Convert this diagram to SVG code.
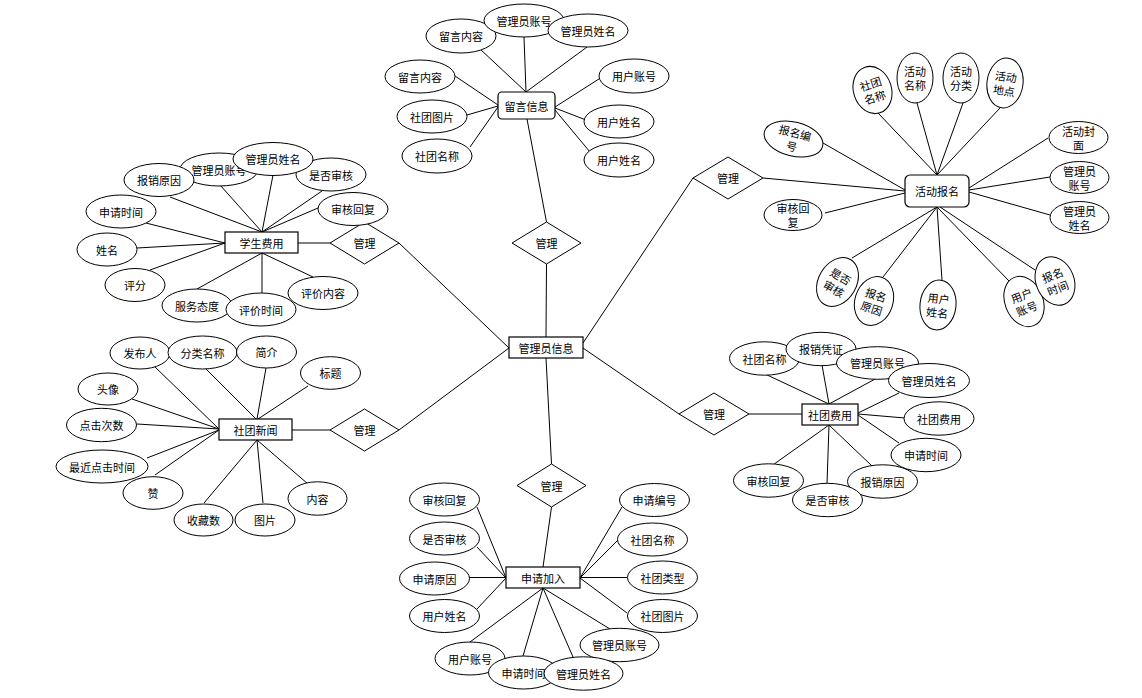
<svg xmlns="http://www.w3.org/2000/svg" width="1142" height="698" viewBox="0 0 1142 698">
<style>
.e{fill:#fff;stroke:#000;stroke-width:1}
.r{fill:#fff;stroke:#000;stroke-width:1.2}
.d{fill:#fff;stroke:#000;stroke-width:1}
.t{font-family:"Noto Sans CJK SC","Liberation Sans",sans-serif;font-size:11px;text-anchor:middle;dominant-baseline:central;fill:#000}
#connectors line{stroke:#000;stroke-width:1}
</style>
<rect width="1142" height="698" fill="#fff"/>
<g id="connectors">
<line x1="546" y1="337" x2="546.5" y2="264"/>
<line x1="509" y1="348" x2="399" y2="243"/>
<line x1="509" y1="348" x2="399" y2="430"/>
<line x1="583" y1="343" x2="693" y2="178"/>
<line x1="583" y1="348" x2="679" y2="414"/>
<line x1="546" y1="358" x2="551.5" y2="464"/>
<line x1="527" y1="119" x2="546.5" y2="222"/>
<line x1="330" y1="243" x2="298" y2="243"/>
<line x1="330" y1="430" x2="292" y2="430"/>
<line x1="551.5" y1="507" x2="543" y2="567"/>
<line x1="749" y1="414" x2="802" y2="414"/>
<line x1="763" y1="178" x2="905" y2="191"/>
<line x1="480" y1="49" x2="526" y2="92"/>
<line x1="524" y1="37" x2="526" y2="92"/>
<line x1="587" y1="47" x2="526" y2="92"/>
<line x1="455" y1="76" x2="498" y2="105"/>
<line x1="467" y1="115" x2="498" y2="106"/>
<line x1="470" y1="147" x2="498" y2="107"/>
<line x1="602" y1="77" x2="555" y2="107"/>
<line x1="586" y1="120" x2="555" y2="108"/>
<line x1="590" y1="152" x2="555" y2="110"/>
<line x1="170" y1="197" x2="262" y2="232"/>
<line x1="220" y1="185" x2="262" y2="232"/>
<line x1="273" y1="175" x2="262" y2="232"/>
<line x1="322" y1="191" x2="262" y2="232"/>
<line x1="318" y1="208" x2="262" y2="232"/>
<line x1="146" y1="223" x2="225" y2="243"/>
<line x1="137" y1="248" x2="225" y2="243"/>
<line x1="150" y1="270" x2="225" y2="243"/>
<line x1="197" y1="289" x2="262" y2="253"/>
<line x1="262" y1="293" x2="262" y2="253"/>
<line x1="313" y1="277" x2="262" y2="253"/>
<line x1="153" y1="365" x2="219" y2="429"/>
<line x1="202" y1="365" x2="256" y2="419"/>
<line x1="266" y1="368" x2="257" y2="419"/>
<line x1="308" y1="386" x2="258" y2="419"/>
<line x1="132" y1="399" x2="219" y2="429"/>
<line x1="137" y1="424" x2="219" y2="429"/>
<line x1="147" y1="458" x2="219" y2="430"/>
<line x1="155" y1="475" x2="219" y2="430"/>
<line x1="204" y1="503" x2="257" y2="440"/>
<line x1="263" y1="503" x2="257" y2="440"/>
<line x1="308" y1="484" x2="257" y2="440"/>
<line x1="477" y1="507" x2="506" y2="578"/>
<line x1="477" y1="547" x2="506" y2="578"/>
<line x1="469" y1="577.5" x2="506" y2="577.5"/>
<line x1="477" y1="609" x2="506" y2="578"/>
<line x1="622" y1="507" x2="580" y2="578"/>
<line x1="618" y1="540" x2="580" y2="578"/>
<line x1="627" y1="577.5" x2="580" y2="577.5"/>
<line x1="627" y1="613" x2="580" y2="578"/>
<line x1="470" y1="642" x2="543" y2="588"/>
<line x1="523" y1="656" x2="543" y2="588"/>
<line x1="573" y1="657" x2="543" y2="588"/>
<line x1="610" y1="629" x2="543" y2="588"/>
<line x1="765" y1="374" x2="829" y2="404"/>
<line x1="822" y1="365" x2="829" y2="404"/>
<line x1="877" y1="378" x2="829" y2="404"/>
<line x1="899" y1="393" x2="858" y2="413"/>
<line x1="905" y1="418" x2="858" y2="414"/>
<line x1="899" y1="443" x2="858" y2="415"/>
<line x1="770" y1="467" x2="829" y2="425"/>
<line x1="827" y1="484" x2="829" y2="425"/>
<line x1="872" y1="466" x2="829" y2="425"/>
<line x1="878" y1="113" x2="937" y2="175"/>
<line x1="917" y1="103" x2="937" y2="175"/>
<line x1="963" y1="103" x2="937" y2="175"/>
<line x1="1000" y1="108" x2="937" y2="175"/>
<line x1="823" y1="143" x2="905" y2="190"/>
<line x1="825" y1="213" x2="905" y2="193"/>
<line x1="1048" y1="138" x2="969" y2="188"/>
<line x1="1050" y1="177" x2="969" y2="190"/>
<line x1="1050" y1="215" x2="969" y2="192"/>
<line x1="852" y1="258" x2="937" y2="207"/>
<line x1="883" y1="277" x2="937" y2="207"/>
<line x1="942" y1="280" x2="937" y2="207"/>
<line x1="1010" y1="282" x2="937" y2="207"/>
<line x1="1035" y1="270" x2="940" y2="207"/>
</g>

<g id="rel-top"><polygon class="d" points="512,243 546.5,222 581,243 546.5,264"/><text class="t" x="546.5" y="243">管理</text></g>
<g id="rel-student"><polygon class="d" points="330,243 364.5,222 399,243 364.5,264"/><text class="t" x="364.5" y="243">管理</text></g>
<g id="rel-news"><polygon class="d" points="330,430 364.5,409 399,430 364.5,451"/><text class="t" x="364.5" y="430">管理</text></g>
<g id="rel-bottom"><polygon class="d" points="517,485.5 551.5,464 586,485.5 551.5,507"/><text class="t" x="551.5" y="485.5">管理</text></g>
<g id="rel-fee"><polygon class="d" points="679,414 714,393 749,414 714,435"/><text class="t" x="714" y="414">管理</text></g>
<g id="rel-activity"><polygon class="d" points="693,178 728,157 763,178 728,199"/><text class="t" x="728" y="178">管理</text></g>

<g id="admin"><rect class="r" x="509" y="337" width="74" height="21"/><text class="t" x="546" y="347.5">管理员信息</text></g>

<g id="message"><rect class="r" x="498" y="92" width="57" height="27" rx="4"/><text class="t" x="526.5" y="105.5">留言信息</text></g>
<g id="m-a1"><ellipse class="e" cx="461" cy="36" rx="35" ry="17"/><text class="t" x="461" y="36">留言内容</text></g>
<g id="m-a2"><ellipse class="e" cx="524" cy="20.5" rx="40" ry="16.5"/><text class="t" x="524" y="20.5">管理员账号</text></g>
<g id="m-a3"><ellipse class="e" cx="588" cy="30.5" rx="40" ry="16.5"/><text class="t" x="588" y="30.5">管理员姓名</text></g>
<g id="m-a4"><ellipse class="e" cx="420" cy="76.5" rx="35" ry="16.5"/><text class="t" x="420" y="76.5">留言内容</text></g>
<g id="m-a5"><ellipse class="e" cx="432" cy="116.5" rx="35" ry="16.5"/><text class="t" x="432" y="116.5">社团图片</text></g>
<g id="m-a6"><ellipse class="e" cx="437" cy="156" rx="35" ry="17"/><text class="t" x="437" y="156">社团名称</text></g>
<g id="m-a7"><ellipse class="e" cx="634" cy="76" rx="35" ry="17"/><text class="t" x="634" y="76">用户账号</text></g>
<g id="m-a8"><ellipse class="e" cx="619" cy="121.5" rx="35" ry="16.5"/><text class="t" x="619" y="121.5">用户姓名</text></g>
<g id="m-a9"><ellipse class="e" cx="619" cy="160" rx="35" ry="17"/><text class="t" x="619" y="160">用户姓名</text></g>

<g id="student"><rect class="r" x="225" y="232" width="73" height="21"/><text class="t" x="261.5" y="242.5">学生费用</text></g>
<g id="s-a2"><ellipse class="e" cx="219" cy="169.5" rx="39" ry="16.5"/><text class="t" x="219" y="169.5">管理员账号</text></g>
<g id="s-a1"><ellipse class="e" cx="159" cy="180" rx="35" ry="16.5"/><text class="t" x="159" y="180">报销原因</text></g>
<g id="s-a4"><ellipse class="e" cx="331" cy="174.5" rx="35" ry="16.5"/><text class="t" x="331" y="174.5">是否审核</text></g>
<g id="s-a3"><ellipse class="e" cx="273" cy="159" rx="40" ry="16.5"/><text class="t" x="273" y="159">管理员姓名</text></g>
<g id="s-a5"><ellipse class="e" cx="353" cy="209" rx="35" ry="16.5"/><text class="t" x="353" y="209">审核回复</text></g>
<g id="s-a6"><ellipse class="e" cx="121" cy="211.5" rx="35" ry="16.5"/><text class="t" x="121" y="211.5">申请时间</text></g>
<g id="s-a7"><ellipse class="e" cx="107" cy="249.5" rx="30" ry="16.5"/><text class="t" x="107" y="249.5">姓名</text></g>
<g id="s-a8"><ellipse class="e" cx="135" cy="285" rx="30" ry="16.5"/><text class="t" x="135" y="285">评分</text></g>
<g id="s-a9"><ellipse class="e" cx="197" cy="305.5" rx="35" ry="16.5"/><text class="t" x="197" y="305.5">服务态度</text></g>
<g id="s-a11"><ellipse class="e" cx="323" cy="293" rx="35" ry="16.5"/><text class="t" x="323" y="293">评价内容</text></g>
<g id="s-a10"><ellipse class="e" cx="261" cy="309.5" rx="35" ry="16.5"/><text class="t" x="261" y="309.5">评价时间</text></g>

<g id="news"><rect class="r" x="219" y="419" width="73" height="21"/><text class="t" x="255.5" y="429.5">社团新闻</text></g>
<g id="n-a1"><ellipse class="e" cx="140" cy="353" rx="30" ry="16"/><text class="t" x="140" y="353">发布人</text></g>
<g id="n-a2"><ellipse class="e" cx="202.5" cy="352.5" rx="34.5" ry="16.5"/><text class="t" x="202.5" y="352.5">分类名称</text></g>
<g id="n-a3"><ellipse class="e" cx="266.5" cy="352" rx="30" ry="16"/><text class="t" x="266.5" y="352">简介</text></g>
<g id="n-a4"><ellipse class="e" cx="330.5" cy="373" rx="30" ry="16.3"/><text class="t" x="330.5" y="373">标题</text></g>
<g id="n-a5"><ellipse class="e" cx="108" cy="389" rx="30" ry="16"/><text class="t" x="108" y="389">头像</text></g>
<g id="n-a6"><ellipse class="e" cx="101.5" cy="425" rx="35" ry="16.7"/><text class="t" x="101.5" y="425">点击次数</text></g>
<g id="n-a7"><ellipse class="e" cx="102" cy="466.5" rx="46" ry="16.5"/><text class="t" x="102" y="466.5">最近点击时间</text></g>
<g id="n-a8"><ellipse class="e" cx="153" cy="493" rx="30" ry="16.3"/><text class="t" x="153" y="493">赞</text></g>
<g id="n-a9"><ellipse class="e" cx="203.5" cy="520" rx="29.5" ry="16"/><text class="t" x="203.5" y="520">收藏数</text></g>
<g id="n-a10"><ellipse class="e" cx="265" cy="520" rx="30" ry="16"/><text class="t" x="265" y="520">图片</text></g>
<g id="n-a11"><ellipse class="e" cx="317.5" cy="498.5" rx="29.5" ry="16.7"/><text class="t" x="317.5" y="498.5">内容</text></g>

<g id="apply"><rect class="r" x="506" y="567" width="74" height="21"/><text class="t" x="543" y="577.5">申请加入</text></g>
<g id="a-a1"><ellipse class="e" cx="444.5" cy="499.5" rx="35" ry="16.5"/><text class="t" x="444.5" y="499.5">审核回复</text></g>
<g id="a-a2"><ellipse class="e" cx="444.5" cy="538.5" rx="35" ry="16.5"/><text class="t" x="444.5" y="538.5">是否审核</text></g>
<g id="a-a3"><ellipse class="e" cx="434.5" cy="578.5" rx="35" ry="16.5"/><text class="t" x="434.5" y="578.5">申请原因</text></g>
<g id="a-a4"><ellipse class="e" cx="444.5" cy="616" rx="35" ry="16.5"/><text class="t" x="444.5" y="616">用户姓名</text></g>
<g id="a-a5"><ellipse class="e" cx="470" cy="658.5" rx="35" ry="16.5"/><text class="t" x="470" y="658.5">用户账号</text></g>
<g id="a-a6"><ellipse class="e" cx="523.5" cy="672.5" rx="35" ry="16.5"/><text class="t" x="523.5" y="672.5">申请时间</text></g>
<g id="a-a8"><ellipse class="e" cx="619.5" cy="645" rx="39.5" ry="16.7"/><text class="t" x="619.5" y="645">管理员账号</text></g>
<g id="a-a7"><ellipse class="e" cx="583.5" cy="673.5" rx="39.5" ry="16.7"/><text class="t" x="583.5" y="673.5">管理员姓名</text></g>
<g id="a-a9"><ellipse class="e" cx="662.5" cy="616" rx="35" ry="16.5"/><text class="t" x="662.5" y="616">社团图片</text></g>
<g id="a-a10"><ellipse class="e" cx="662.5" cy="577.5" rx="35" ry="16.5"/><text class="t" x="662.5" y="577.5">社团类型</text></g>
<g id="a-a11"><ellipse class="e" cx="652.5" cy="539.5" rx="35" ry="16.5"/><text class="t" x="652.5" y="539.5">社团名称</text></g>
<g id="a-a12"><ellipse class="e" cx="654.5" cy="500" rx="35" ry="16.5"/><text class="t" x="654.5" y="500">申请编号</text></g>

<g id="fee"><rect class="r" x="802" y="404" width="56" height="21"/><text class="t" x="830" y="414.5">社团费用</text></g>
<g id="f-a1"><ellipse class="e" cx="764.5" cy="358.5" rx="35" ry="16.7"/><text class="t" x="764.5" y="358.5">社团名称</text></g>
<g id="f-a2"><ellipse class="e" cx="821" cy="349" rx="35" ry="16.7"/><text class="t" x="821" y="349">报销凭证</text></g>
<g id="f-a3"><ellipse class="e" cx="877.5" cy="363" rx="41" ry="16.3"/><text class="t" x="877.5" y="363">管理员账号</text></g>
<g id="f-a4"><ellipse class="e" cx="929" cy="380.5" rx="40.5" ry="17"/><text class="t" x="929" y="380.5">管理员姓名</text></g>
<g id="f-a5"><ellipse class="e" cx="939" cy="418.5" rx="35" ry="16.7"/><text class="t" x="939" y="418.5">社团费用</text></g>
<g id="f-a6"><ellipse class="e" cx="926" cy="455" rx="35" ry="16.7"/><text class="t" x="926" y="455">申请时间</text></g>
<g id="f-a7"><ellipse class="e" cx="882.5" cy="481.5" rx="35" ry="16.7"/><text class="t" x="882.5" y="481.5">报销原因</text></g>
<g id="f-a9"><ellipse class="e" cx="768.5" cy="480.5" rx="35" ry="16.7"/><text class="t" x="768.5" y="480.5">审核回复</text></g>
<g id="f-a8"><ellipse class="e" cx="827.5" cy="500" rx="35" ry="16.7"/><text class="t" x="827.5" y="500">是否审核</text></g>

<g id="activity"><rect class="r" x="905" y="175" width="64" height="32" rx="5"/><text class="t" x="937" y="191">活动报名</text></g>
<g id="h-a1" transform="translate(872.5,90) rotate(-18)"><ellipse class="e" rx="19" ry="24"/><text class="t" y="-7">社团</text><text class="t" y="7">名称</text></g>
<g id="h-a2" transform="translate(915,78)"><ellipse class="e" rx="18" ry="25"/><text class="t" y="-7">活动</text><text class="t" y="7">名称</text></g>
<g id="h-a3" transform="translate(961,78)"><ellipse class="e" rx="18" ry="25"/><text class="t" y="-7">活动</text><text class="t" y="7">分类</text></g>
<g id="h-a4" transform="translate(1005,83) rotate(8)"><ellipse class="e" rx="18" ry="25"/><text class="t" y="-7">活动</text><text class="t" y="7">地点</text></g>
<g id="h-a5" transform="translate(793.5,139) rotate(14)"><ellipse class="e" rx="30" ry="17"/><text class="t" y="-7">报名编</text><text class="t" y="7">号</text></g>
<g id="h-a6" transform="translate(793,215)"><ellipse class="e" rx="29" ry="15.5"/><text class="t" y="-7">审核回</text><text class="t" y="7">复</text></g>
<g id="h-a7" transform="translate(1078.5,137.5)"><ellipse class="e" rx="29.5" ry="16"/><text class="t" y="-7">活动封</text><text class="t" y="7">面</text></g>
<g id="h-a8" transform="translate(1079.5,177.5)"><ellipse class="e" rx="29.5" ry="16"/><text class="t" y="-7">管理员</text><text class="t" y="7">账号</text></g>
<g id="h-a9" transform="translate(1079.5,217.5)"><ellipse class="e" rx="29.5" ry="16"/><text class="t" y="-7">管理员</text><text class="t" y="7">姓名</text></g>
<g id="h-a10" transform="translate(837.5,282) rotate(30)"><ellipse class="e" rx="19" ry="26"/><text class="t" y="-7">是否</text><text class="t" y="7">审核</text></g>
<g id="h-a11" transform="translate(874,301) rotate(18)"><ellipse class="e" rx="19" ry="25"/><text class="t" y="-7">报名</text><text class="t" y="7">原因</text></g>
<g id="h-a12" transform="translate(938,305) rotate(6)"><ellipse class="e" rx="18" ry="25"/><text class="t" y="-7">用户</text><text class="t" y="7">姓名</text></g>
<g id="h-a13" transform="translate(1024,301.5) rotate(-22)"><ellipse class="e" rx="19" ry="26"/><text class="t" y="-7">用户</text><text class="t" y="7">账号</text></g>
<g id="h-a14" transform="translate(1055,281) rotate(-22)"><ellipse class="e" rx="19" ry="25"/><text class="t" y="-7">报名</text><text class="t" y="7">时间</text></g>
</svg>
